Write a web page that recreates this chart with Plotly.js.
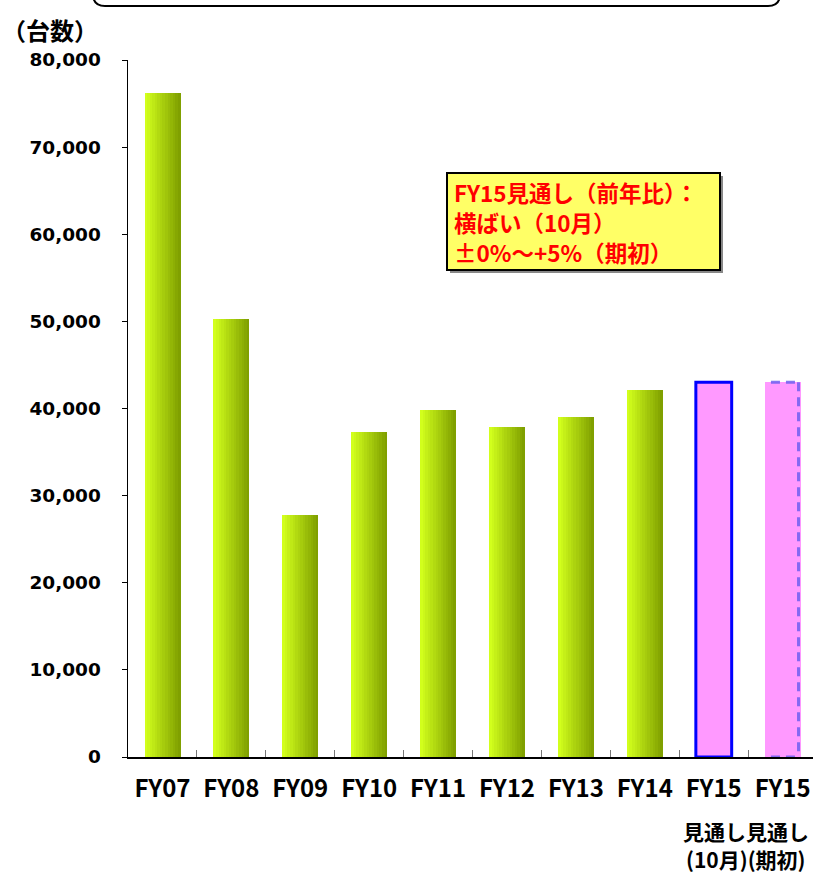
<!DOCTYPE html>
<html>
<head>
<meta charset="utf-8">
<script src="https://cdn.plot.ly/plotly-3.0.1.min.js"></script>
<style>
html,body{margin:0;padding:0;background:#fff;}
#chart{width:813px;height:873px;}
</style>
</head>
<body>
<div id="chart"></div>
<script>
// ---- data ----
const categories = ['FY07','FY08','FY09','FY10','FY11','FY12','FY13','FY14','FY15(10月)','FY15(期初)'];
const tickLabels = ['FY07','FY08','FY09','FY10','FY11','FY12','FY13','FY14','FY15','FY15'];
const actualCategories = ['FY07','FY08','FY09','FY10','FY11','FY12','FY13','FY14'];
const actualValues = [76200, 50300, 27800, 37300, 39800, 37900, 39000, 42100];
const forecastCategories = ['FY15(10月)','FY15(期初)'];
const forecastValues = [43000, 43000];
const forecastLine1 = ['見通し','見通し'];
const forecastLine2 = ['(10月)','(期初)'];
const unitLabel = '（台数）';
const noteLines = ['FY15見通し（前年比）：','横ばい（10月）','±0%〜+5%（期初）'];

// ---- layout helpers ----
const W = 813, H = 873;
const M = {l:128, r:0, t:60, b:116};
const PW = W - M.l - M.r, PH = H - M.t - M.b;
const px = x => (x - M.l) / PW;
const py = y => (H - M.b - y) / PH;

const barW = 0.52;
const nStrips = 14;
const cL = [210, 255, 28], cR = [128, 160, 0];
const traces = [];
for (let i = 0; i < nStrips; i++) {
  const t = i / (nStrips - 1);
  const c = cL.map((v, k) => Math.round(v + (cR[k] - v) * t));
  const sw = barW / nStrips;
  traces.push({
    type: 'bar', x: actualCategories, y: actualValues,
    width: sw * 1.08, offset: -barW / 2 + i * sw,
    marker: {color: `rgb(${c[0]},${c[1]},${c[2]})`, line: {width: 0}},
    hoverinfo: 'x+y', showlegend: false
  });
}
// FY15 forecast (Oct) – solid blue outline
traces.push({
  type: 'bar', x: [forecastCategories[0]], y: [forecastValues[0]],
  width: barW, offset: -barW / 2,
  marker: {color: '#ff99ff', line: {color: '#0000ff', width: 3}},
  showlegend: false
});
// FY15 forecast (initial) – fill only, dashed outline via shapes
traces.push({
  type: 'bar', x: [forecastCategories[1]], y: [forecastValues[1]],
  width: barW, offset: -barW / 2,
  marker: {color: '#ff99ff', line: {width: 0}},
  showlegend: false
});

const idx = categories.indexOf(forecastCategories[1]);
const dashLine = {color: 'rgba(110,95,240,0.85)', width: 3, dash: '9px,6px'};
const x0 = idx - barW / 2 + 0.01, x1 = idx + barW / 2 - 0.03, yTop = forecastValues[1];
const shapes = [
  {type: 'line', xref: 'x', yref: 'y', x0: x0 + 0.08, x1: x1, y0: yTop, y1: yTop, line: dashLine},
  {type: 'line', xref: 'x', yref: 'y', x0: x1, x1: x1, y0: yTop, y1: 0, line: dashLine},
  {type: 'line', xref: 'x', yref: 'y', x0: x0 + 0.08, x1: x1, y0: 0, y1: 0, line: dashLine},
];
// top rounded frame (partially visible)
const fl = px(93), fr = px(780), fb = py(6), ft = py(-20);
const rx = 12 / PW, ry = 12 / PH;
shapes.push({
  type: 'path', xref: 'paper', yref: 'paper',
  path: `M ${fl} ${ft} L ${fl} ${fb + ry} Q ${fl} ${fb} ${fl + rx} ${fb} L ${fr - rx} ${fb} Q ${fr} ${fb} ${fr} ${fb + ry} L ${fr} ${ft}`,
  line: {color: '#000', width: 2}
});
// note box: shadow + yellow box
shapes.push({
  type: 'rect', xref: 'paper', yref: 'paper',
  x0: px(450), x1: px(723), y0: py(273), y1: py(176),
  fillcolor: '#888', line: {width: 0}
});
shapes.push({
  type: 'rect', xref: 'paper', yref: 'paper',
  x0: px(447), x1: px(720), y0: py(270), y1: py(173),
  fillcolor: '#ffff66', line: {color: '#000', width: 2}
});

const jp = '"Noto Sans CJK JP", "Noto Sans", sans-serif';
const idx0 = categories.indexOf(forecastCategories[0]);
const annotations = [
  {xref: 'paper', yref: 'paper', x: px(0), y: py(29), xanchor: 'left', yanchor: 'middle',
   text: unitLabel, showarrow: false, font: {family: jp, size: 24, color: '#000', weight: 'bold'}},
  {xref: 'x', yref: 'paper', x: (idx0 + idx) / 2 - 0.03, y: py(831), yanchor: 'middle',
   text: forecastLine1.join(''), showarrow: false,
   font: {family: jp, size: 21, color: '#000', weight: 'bold'}},
  {xref: 'x', yref: 'paper', x: (idx0 + idx) / 2 - 0.03, y: py(859), yanchor: 'middle',
   text: forecastLine2.join(''), showarrow: false,
   font: {family: jp, size: 21, color: '#000', weight: 'bold'}}
];
const noteY = [192, 222, 252];
noteLines.forEach((t, i) => {
  annotations.push({xref: 'paper', yref: 'paper', x: px(453), y: py(noteY[i]),
    xanchor: 'left', yanchor: 'middle', text: t, showarrow: false, borderpad: 0,
    font: {family: jp, size: 22.5, color: '#ff0000', weight: 'bold'}});
});

const layout = {
  width: W, height: H, margin: M,
  paper_bgcolor: '#fff', plot_bgcolor: '#fff',
  barmode: 'overlay', bargap: 0,
  showlegend: false,
  xaxis: {
    type: 'category', categoryorder: 'array', categoryarray: categories,
    tickvals: categories, ticktext: tickLabels,
    range: [-0.5, 9.44], showgrid: false, zeroline: false,
    showline: true, linecolor: '#000', linewidth: 1.5,
    ticks: 'inside', tickson: 'boundaries', ticklen: 7, tickcolor: '#777', tickwidth: 1,
    ticklabelstandoff: 10,
    tickfont: {family: jp, size: 24, color: '#000', weight: 'bold'},
    fixedrange: true
  },
  yaxis: {
    range: [0, 80000], dtick: 10000, tick0: 0, tickformat: ',d',
    showgrid: false, zeroline: false,
    showline: true, linecolor: '#000', linewidth: 1.5,
    ticks: 'outside', ticklen: 5, tickcolor: '#000', tickwidth: 1,
    ticklabelstandoff: 17,
    tickfont: {family: '"DejaVu Sans", sans-serif', size: 18.5, color: '#000', weight: 'bold'},
    fixedrange: true
  },
  shapes: shapes,
  annotations: annotations
};

Plotly.newPlot('chart', traces, layout, {displayModeBar: false, staticPlot: true});
</script>
</body>
</html>
